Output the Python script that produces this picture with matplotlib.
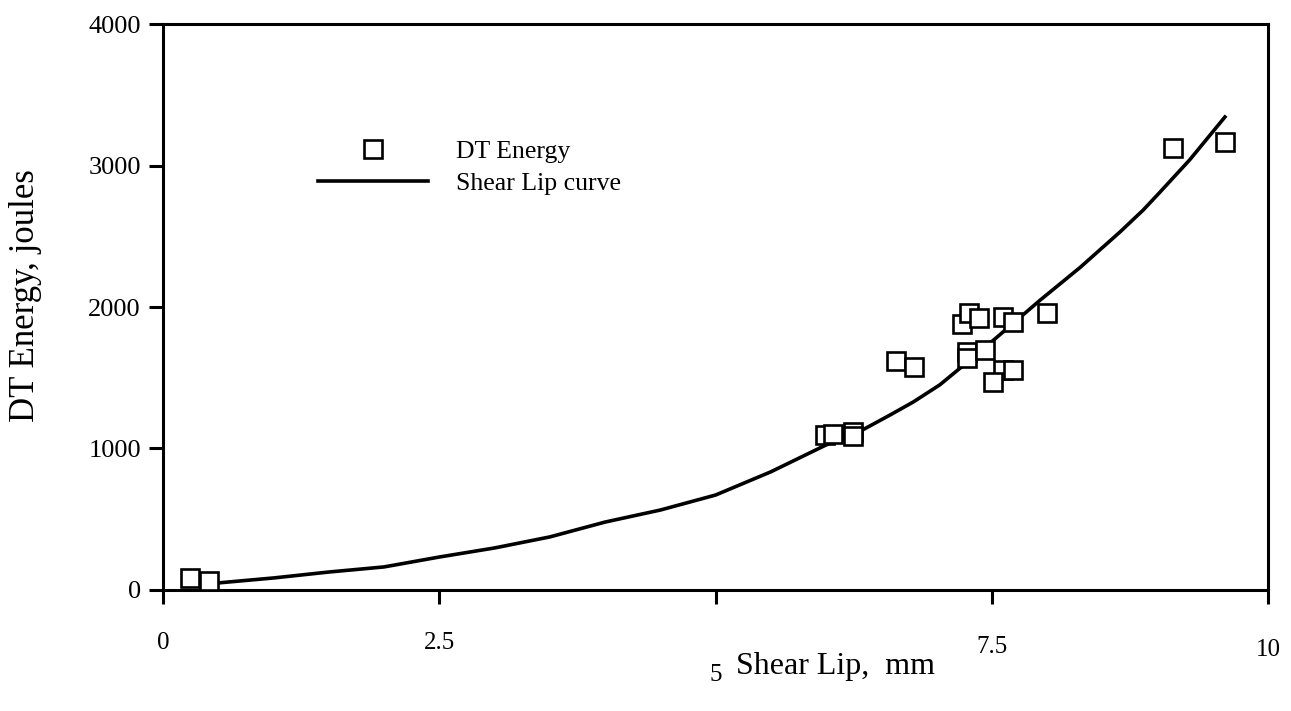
import matplotlib
matplotlib.use("Agg")
import matplotlib.pyplot as plt

plt.rcParams['font.family'] = ['Liberation Serif', 'DejaVu Serif']

# measured DT energy vs shear lip
lip_mm = [0.24, 0.42, 5.99, 6.06, 6.24, 6.24, 6.63, 6.80, 7.23, 7.29, 7.38,
          7.60, 7.69, 8.00, 7.28, 7.28, 7.44, 7.60, 7.69, 7.51, 9.14, 9.61]
dt_energy = [85, 60, 1095, 1102, 1117, 1090, 1618, 1576, 1880, 1955, 1922,
             1929, 1894, 1958, 1680, 1640, 1696, 1555, 1555, 1470, 3124, 3166]

# fitted shear lip curve
curve_x = [0.3, 0.5, 1.0, 1.5, 2.0, 2.5, 3.0, 3.5, 4.0, 4.5, 5.0, 5.5, 6.0,
           6.33, 6.58, 6.79, 7.03, 7.39, 7.57, 7.94, 8.3, 8.66, 8.87, 9.02,
           9.29, 9.61]
curve_y = [30, 50, 85, 127, 163, 233, 297, 375, 480, 565, 671, 835, 1025,
           1131, 1237, 1329, 1450, 1682, 1802, 2050, 2280, 2530, 2685, 2810,
           3039, 3343]

x_ticks = [0, 2.5, 5, 7.5, 10]
x_tick_labels = ['0', '2.5', '5', '7.5', '10']
x_label_drop = [0, 0, 23, 3, 5]   # points
y_ticks = [0, 1000, 2000, 3000, 4000]

fig = plt.figure(figsize=(12.91, 7.11), dpi=100)
ax = fig.add_axes([0.1263, 0.1702, 0.8559, 0.7960])

ax.plot(lip_mm, dt_energy, 's', ms=13, mfc='white', mec='black', mew=1.9,
        label='DT Energy', zorder=3)
ax.plot(curve_x, curve_y, '-', color='black', lw=2.6, label='Shear Lip curve',
        zorder=2)

ax.set_xlim(0, 10)
ax.set_ylim(0, 4000)
for s in ax.spines.values():
    s.set_linewidth(2.2)

ax.set_yticks(y_ticks)
ax.tick_params(axis='y', direction='out', length=10, width=2.2, pad=6,
               labelsize=19)
ax.set_xticks(x_ticks)
ax.set_xticklabels([''] * len(x_ticks))
ax.tick_params(axis='x', direction='out', length=10, width=2.2)

for xv, lab, drop in zip(x_ticks, x_tick_labels, x_label_drop):
    ax.annotate(lab, xy=(xv, 0), xycoords=('data', 'axes fraction'),
                xytext=(0, -38 - drop), textcoords='offset points',
                ha='center', va='center', fontsize=18)

ax.set_xlabel('Shear Lip,  mm', fontsize=23)
ax.xaxis.set_label_coords(0.609, -0.135)
ax.xaxis.label.set_va('center')
ax.set_ylabel('DT Energy, joules', fontsize=25)
ax.yaxis.set_label_coords(-0.11, 0.52)

ax.legend(loc='upper left', bbox_to_anchor=(0.140, 0.795), frameon=False,
          fontsize=18.5, handlelength=4.3, handletextpad=1.1, borderpad=0,
          borderaxespad=0, labelspacing=0.35)

fig.savefig('out.png', dpi=100, facecolor='white')
